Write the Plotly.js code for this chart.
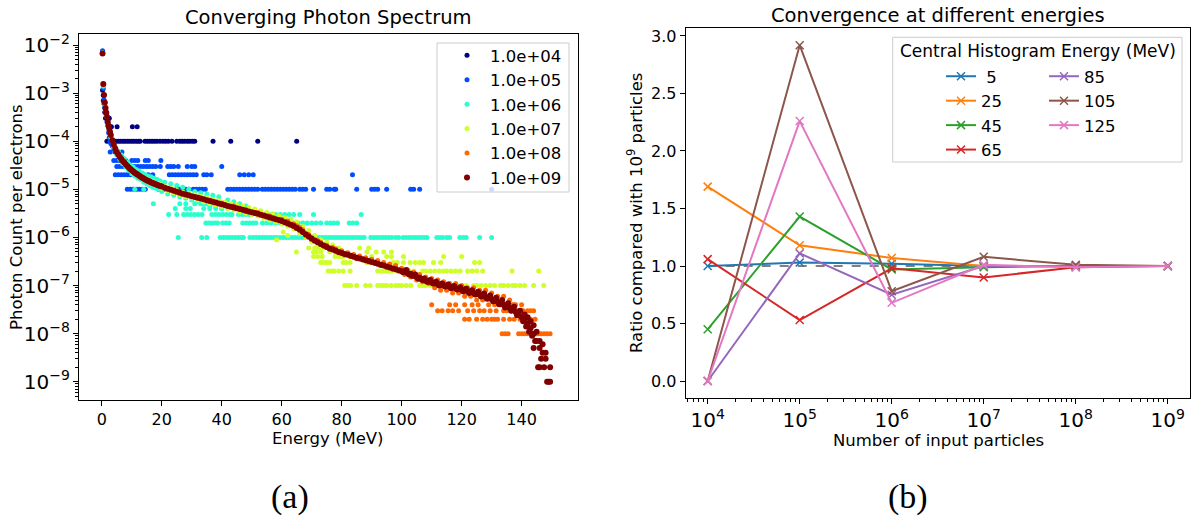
<!DOCTYPE html>
<html><head><meta charset="utf-8">
<script src="https://cdn.plot.ly/plotly-3.0.1.min.js"></script>
<style>html,body{margin:0;padding:0;background:#fff}#chart{width:1191px;height:519px}</style>
</head><body><div id="chart"></div>
<script>
// ================= LEFT PANEL: Converging Photon Spectrum =================
const SPEC_LABELS = ['1.0e+04','1.0e+05','1.0e+06','1.0e+07','1.0e+08','1.0e+09'];
const SPEC_COLORS = ['#000080','#004cff','#29ffce','#ceff29','#ff6800','#800000'];

// ---- 1e4 electrons ----
const S4_x = [0.25,0.25,0.5,0.5,0.75,1.0,1.0,1.25,1.5,1.75,2.0,2.5,2.25,3.2,5.1,10.2,11.8];
const S4_y = [7.3e-3,1.15e-3,9e-4,7e-4,6e-4,5e-4,4e-4,3e-4,4e-4,3e-4,3e-4,3e-4,2e-4,2e-4,2e-4,2e-4,2e-4];
const S4_row1e4 = [1.7,2.5,3.2,4.0,4.7,5.5,6.2,7.0,7.7,8.5,9.2,10.0,10.7,11.5,12.2,12.8,14.4,15.2,16.0,16.8,17.6,18.4,19.4,20.4,21.3,22.2,23.4,25.0,26.0,26.8,27.6,28.5,29.3,30.2,31.0,37.1,43.0,52.0,65.0];

// ---- 1e5 electrons ----
const S5_x = [0.25,0.5,0.75,1.0,1.25,1.5,1.75,2.0,2.25,2.5,2.75,3.0,3.5,4.0,2.8,4.4,5.5,6.7,6.4];
const S5_y = [7.6e-3,1.25e-3,7.3e-4,5.2e-4,4.2e-4,3.4e-4,2.5e-4,2.1e-4,1.5e-4,1.2e-4,1.0e-4,9e-5,8e-5,7e-5,6e-5,6e-5,6e-5,6e-5,5e-5];
const S5_row4e5 = [4,5,6,7,8,10,11,12,14.5,15.5,19.7];
const S5_row3e5 = [5,6,7,8,9,10,11,12,13,14,15,16,17,18,19.5,22,23,24,25.5,28.5,30,31,40];
const S5_row2e5 = [4.5,5.5,6.5,7.5,8.5,9.5,12,13,14,15.5,17,22.5,23.5,24.5,25.5,26.5,27.5,28.5,29.5,30.5,31.5,34,35,36.5,46,47.5,49,50.5,83.6];
const S5_row1e5 = [8.5,9.5,10.5,11.5,12.5,13.5,14.5,19,20,21,22,25,26,27,28,29,30.5,31.5,32.5,33.5,34.5,42,43,44,45,46,47,48,49,50,51,52,53.5,54.5,55.5,56.5,57.5,58.5,59.5,60.5,61.5,62.5,63.5,64.5,66,67,68,70.6,75,76,77.5,78,85,90,91,92,95,103,104,106,130];

// ---- 1e6 electrons ----
const S6_x = [0.25,0.5,1.0,1.5,2.0,2.5,
  3,3.5,4,4.5,5,5.5,6,6.5,7,7.5,8,8.5,9,9.5,10,10.5,11,11.5,12,12.5,13,13.5,14,14.5,15,15.5,16,16.5,17,17.5,18,18.5,19,19.5,20,
  21,22,23,24,25,26,27,28,29,30,31,32,33,34,35,36,37,38,39,40,42,44,46,48,17.2,14,11];
const S6_y = [6.8e-3,1.4e-3,5.5e-4,3.3e-4,2.2e-4,1.6e-4,
  1.2e-4,1.1e-4,7.5e-5,7.5e-5,5.2e-5,6.2e-5,4.2e-5,5.2e-5,3.4e-5,4.4e-5,2.9e-5,3.7e-5,2.5e-5,3.2e-5,2.1e-5,2.9e-5,1.9e-5,2.6e-5,1.7e-5,2.4e-5,1.6e-5,2.2e-5,1.4e-5,2.0e-5,1.3e-5,1.9e-5,1.2e-5,1.8e-5,1.1e-5,1.7e-5,1.05e-5,1.6e-5,1.0e-5,1.5e-5,9e-6,
  1.4e-5,8e-6,1.3e-5,7.5e-6,1.2e-5,7e-6,1.1e-5,6.5e-6,1.0e-5,6e-6,9e-6,5.5e-6,8.5e-6,5e-6,8e-6,4.5e-6,7.5e-6,4.5e-6,7e-6,4e-6,6e-6,5.5e-6,5e-6,4.5e-6,5e-6,1e-5,1e-5];
const S6_row5e6 = [26,28,31,33,35,37];
const S6_row4e6 = [24.5,28,29.5,34,36,38,40,42,44.5];
const S6_row3e6 = [22.3,25,27.3,28.5,29.7,30.9,32.1,33.4,36.7,37.9,39.1,40.3,41.5,42.7,43.4,45.6,46.8,48,49.2,50,55,56.5,58,59.5,61,62.5,64,66,70.6,86.5];
const S6_row2e6 = [34.7,35.7,36.7,37.7,38.6,40.3,41.4,42.5,47,48.2,49.3,50.4,51.4,53.6,55,56.5,58,59.5,61,62.5,64,65.5,67,68.5,70,71.5,73,75,76.2,77.4,78.6,82.5,83.7,85];
const S6_row1e6 = [25.5,33.3,35,39.5,40.5,41.5,42.5,43.5,44.5,45.5,46.5,47.2,49.4,50.5,51.5,52.5,53.5,54.5,55.5,56.5,57.5,58.3,59.4,60.5,61.5,62.5,63.5,64.5,65.5,66.5,67.5,68.5,69.5,70.5,71.5,72.5,73.5,74.5,75.5,76.5,77.5,78.5,79.5,80.5,81.5,82.5,83.5,84.5,85.5,86.5,87.5,89.7,90.7,91.7,92.7,93.7,94.7,95.7,96.7,98,99,100.5,101.5,102.5,103.5,104.5,105.5,106.5,107.5,108.4,111.7,112.7,113.7,115,116,119.4,120.5,121.5,126,130];

// ---- 1e7 electrons ----
const S7_x = [0.25,0.5,1,2,
  3,4,5,6,7,8,9,10,11,12,13,14,15,16,17,18,19,20,21,22,23,24,25,26,27,28,29,30,31,32,33,34,35,36,37,38,39,40,
  41,42,43,44,45,46,47,48,49,50,51,52,53,54,55,56,57,58,59,60,61,62,63,64,65,66,67,68,69,70,71,72,73,74,75,76,77,78,79,80,
  58.3,64.9,62,60.5];
const S7_y = [6.8e-3,1.5e-3,6.2e-4,2.4e-4,
  1.3e-4,8e-5,6.3e-5,4.5e-5,4.1e-5,3.1e-5,3.0e-5,2.4e-5,2.3e-5,1.9e-5,1.9e-5,1.6e-5,1.65e-5,1.35e-5,1.45e-5,1.2e-5,1.3e-5,1.05e-5,1.15e-5,9.5e-6,1.06e-5,8.5e-6,9.6e-6,7.8e-6,8.8e-6,7.1e-6,8.2e-6,6.6e-6,7.7e-6,6.0e-6,7.2e-6,5.5e-6,6.7e-6,5.1e-6,6.2e-6,4.7e-6,5.8e-6,4.4e-6,
  5.4e-6,4.0e-6,5.1e-6,3.7e-6,4.8e-6,3.4e-6,4.5e-6,3.2e-6,4.2e-6,3.0e-6,3.9e-6,2.8e-6,3.6e-6,2.5e-6,3.3e-6,2.3e-6,3.1e-6,2.1e-6,2.8e-6,1.9e-6,2.6e-6,1.7e-6,2.4e-6,1.5e-6,2.1e-6,1.2e-6,1.7e-6,1.0e-6,1.4e-6,8e-7,1.1e-6,7e-7,9e-7,6e-7,8e-7,5e-7,7e-7,5e-7,6e-7,4e-7,
  9e-7,5e-7,1.1e-6,1.3e-6];
const S7_row6e7 = [69,71,72.5,86,89];
const S7_row5e7 = [70.6,71.5,73,88.4,91.5,94,96.6];
const S7_row4e7 = [70.6,72,73.5,77.8,79,80.5,82.8,90,95,96.6,100.6,114,120];
const S7_row3e7 = [73,74,75,76,80.5,81.5,82.8,88.4,90,97.3,98.5,100.6,102.8,104.5,106,107.3,110.6,113,124.3,126];
const S7_row2e7 = [75.5,76.5,77.5,79,80.5,82.8,92,93,94,95,96,97,98.5,100,101,102.5,104,107,108,109.5,111,112.5,114,115,116.5,118,119.5,122,123.5,125,127,136.8,145.7];
const S7_row1e7 = [81,82,83,85,88,89.5,92,93,94,95,96.5,98,99,100,101.5,103,106,107,108,109.5,111,112,113,114.5,116,117,118.5,120,121.5,124,125,126.5,128,129.5,131,133,134,135.5,137,138,139.5,141,144,147.4];

// ---- 1e8 electrons ----
const S8_x = [0.25,0.5,1,2,4,8,12,16,20,24,28,32,36,40,44,48,52,56,60,62,
  63,64,65,66,67,68,69,70,71,72,73,74,75,76,77,78,79,80,81,82,83,84,85,86,87,88,89,90,91,92,93,94,95,96,97,98,99,100,
  101,102,103,104,105,106,107,108,109,110,111,112,113,114,115,116,117,118,119,120,121,122,123,124,125,126,127,128,129,130,
  131,132,133,134,135,136,137,138,139,140,141,142,143,144,145];
const S8_y = [6.8e-3,1.5e-3,6.3e-4,2.5e-4,8.8e-5,3.4e-5,2.1e-5,1.5e-5,1.17e-5,9.6e-6,8.0e-6,6.9e-6,6.0e-6,5.2e-6,4.5e-6,3.8e-6,3.3e-6,2.8e-6,2.4e-6,2.2e-6,
  1.85e-6,1.9e-6,1.75e-6,1.6e-6,1.45e-6,1.1e-6,1.15e-6,1.0e-6,8.3e-7,8.6e-7,7.9e-7,6.6e-7,6.9e-7,5.7e-7,6.2e-7,5.8e-7,4.8e-7,5.3e-7,4.3e-7,4.8e-7,4.0e-7,4.4e-7,3.6e-7,4.1e-7,3.4e-7,3.8e-7,3.1e-7,3.5e-7,2.9e-7,3.3e-7,2.6e-7,3.0e-7,2.4e-7,2.8e-7,2.2e-7,2.6e-7,2.0e-7,2.3e-7,
  1.7e-7,2.1e-7,1.5e-7,1.9e-7,1.3e-7,1.7e-7,1.2e-7,1.5e-7,1.1e-7,1.4e-7,9e-8,1.3e-7,8e-8,1.2e-7,8e-8,1.1e-7,7e-8,1.1e-7,7e-8,1.0e-7,6e-8,9e-8,6e-8,9e-8,5e-8,8e-8,5e-8,8e-8,4e-8,7e-8,
  4e-8,6e-8,4e-8,6e-8,3e-8,5e-8,4e-8,4e-8,3e-8,4e-8,2e-8,3e-8,2e-8,3e-8,1e-8];
const S8_row4e8 = [110,116,118,121,123.5,125.5,133,135.5,137.5];
const S8_row3e8 = [112,113.5,115.5,117,119,122,124,126,127.5,129.5,131.5,134,136.5,138.5,140.5,143];
const S8_row2e8 = [121,122.5,125,127,128.5,130,131,132,134,136,137.5,139.5,142.5,144.5];
const S8_row1e8 = [133.5,134.5,135.5,139,140,141,142,143,144.5,145.5,146.5,147.5,148.5,149.5];

// ---- 1e9 electrons ----
const S9_x = [0.25,0.5,0.75,1.0,1.25,1.5,1.75,2.0,2.25,2.5,2.75,3.0,3.5,4.0,4.5,5.0,
  5.5,6,6.5,7,7.5,8,8.5,9,9.5,10,10.5,11,11.5,12,12.5,13,13.5,14,14.5,15,15.5,16,16.5,17,17.5,18,18.5,19,19.5,20,
  21,22,23,24,25,26,27,28,29,30,31,32,33,34,35,36,37,38,39,40,
  41,42,43,44,45,46,47,48,49,50,51,52,53,54,55,56,57,58,59,60,
  61,62,63,64,65,66,67,68,69,70,71,72,73,74,75,76,77,78,79,80,
  81,82,83,84,85,86,87,88,89,90,91,92,93,94,95,96,97,98,99,100,
  100.5,101,101.5,102,102.5,103,103.5,104,104.5,105,
  105.5,106,106.5,107,107.5,108,108.5,109,109.5,110,
  110.5,111,111.5,112,112.5,113,113.5,114,114.5,115,
  115.5,116,116.5,117,117.5,118,118.5,119,119.5,120,
  120.5,121,121.5,122,122.5,123,123.5,124,124.5,125,
  125.5,126,126.5,127,127.5,128,128.5,129,129.5,130,
  130.5,131,131.5,132,132.5,133,133.5,134,134.5,135,
  135.5,136,136.5,137,137.5,138,138.5,139,139.5,140,
  140.5,141,141.5,142,142.5,143,143.5,144,144.5,145,
  145.5,146,146.5,147,147.5,148,148.5,149,149.5,
  141,142,143,144,145,146,147,148,149.5,144,146];
const S9_y = [6.7e-3,1.55e-3,9.2e-4,6.4e-4,4.9e-4,3.9e-4,3.2e-4,2.5e-4,2.1e-4,1.8e-4,1.55e-4,1.35e-4,1.05e-4,8.5e-5,7.0e-5,6.0e-5,
  5.3e-5,4.7e-5,4.3e-5,3.9e-5,3.6e-5,3.3e-5,3.05e-5,2.85e-5,2.65e-5,2.5e-5,2.35e-5,2.22e-5,2.1e-5,2.0e-5,1.91e-5,1.83e-5,1.75e-5,1.68e-5,1.61e-5,1.55e-5,1.49e-5,1.44e-5,1.39e-5,1.35e-5,1.31e-5,1.27e-5,1.23e-5,1.2e-5,1.17e-5,1.14e-5,
  1.08e-5,1.03e-5,9.8e-6,9.3e-6,8.9e-6,8.5e-6,8.1e-6,7.8e-6,7.5e-6,7.2e-6,6.95e-6,6.7e-6,6.45e-6,6.2e-6,5.95e-6,5.7e-6,5.5e-6,5.3e-6,5.1e-6,4.9e-6,
  4.7e-6,4.5e-6,4.35e-6,4.2e-6,4.05e-6,3.9e-6,3.75e-6,3.6e-6,3.47e-6,3.35e-6,3.22e-6,3.1e-6,2.97e-6,2.85e-6,2.73e-6,2.6e-6,2.5e-6,2.4e-6,2.3e-6,2.2e-6,
  2.08e-6,1.96e-6,1.84e-6,1.72e-6,1.58e-6,1.44e-6,1.3e-6,1.16e-6,1.04e-6,9.4e-7,8.6e-7,7.9e-7,7.3e-7,6.8e-7,6.3e-7,5.9e-7,5.6e-7,5.3e-7,5.0e-7,4.75e-7,
  4.55e-7,4.35e-7,4.15e-7,3.95e-7,3.8e-7,3.65e-7,3.5e-7,3.35e-7,3.22e-7,3.1e-7,2.97e-7,2.85e-7,2.72e-7,2.6e-7,2.48e-7,2.37e-7,2.27e-7,2.17e-7,2.07e-7,1.97e-7,
  1.9e-7,1.95e-7,2.1e-7,1.8e-7,1.7e-7,1.75e-7,1.6e-7,1.6e-7,1.7e-7,1.5e-7,
  1.4e-7,1.45e-7,1.35e-7,1.3e-7,1.4e-7,1.28e-7,1.2e-7,1.22e-7,1.3e-7,1.17e-7,
  1.1e-7,1.12e-7,1.2e-7,1.08e-7,1.0e-7,1.04e-7,1.1e-7,1.0e-7,9.5e-8,9.7e-8,
  1.05e-7,9.4e-8,8.8e-8,9.1e-8,9.8e-8,8.8e-8,8.3e-8,8.5e-8,9.2e-8,8.2e-8,
  7.6e-8,7.9e-8,8.6e-8,7.6e-8,7.0e-8,7.3e-8,8.0e-8,7.0e-8,6.5e-8,6.7e-8,
  7.4e-8,6.4e-8,5.9e-8,6.1e-8,6.8e-8,5.8e-8,5.3e-8,5.5e-8,6.2e-8,5.2e-8,
  4.7e-8,4.9e-8,5.6e-8,4.6e-8,4.1e-8,4.3e-8,5.0e-8,4.0e-8,3.5e-8,3.7e-8,
  4.3e-8,3.4e-8,3.0e-8,3.2e-8,3.6e-8,2.8e-8,2.4e-8,2.6e-8,3.0e-8,2.2e-8,
  1.8e-8,2.0e-8,1.4e-8,1.6e-8,1.1e-8,1.3e-8,9e-9,1.0e-8,7e-9,7e-9,
  2e-9,5e-9,3e-9,4e-9,2e-9,3e-9,1e-9,1e-9,2e-9,
  2.5e-8,2.2e-8,1.8e-8,1.5e-8,1.1e-8,7e-9,6e-9,4e-9,1e-9,5e-9,2e-9];

// ================= RIGHT PANEL: Convergence =================
const N_INPUT = [1e4,1e5,1e6,1e7,1e8,1e9];
const E_LABELS = ['\u00a05','25','45','65','85','105','125'];
const E_COLORS = ['#1f77b4','#ff7f0e','#2ca02c','#d62728','#9467bd','#8c564b','#e377c2'];
const R_5   = [1.00,1.03,1.02,1.00,1.00,1.00];
const R_25  = [1.69,1.18,1.07,1.00,1.00,1.00];
const R_45  = [0.45,1.43,0.97,0.99,1.00,1.00];
const R_65  = [1.06,0.53,0.98,0.90,0.99,1.00];
const R_85  = [0.00,1.11,0.75,1.00,1.00,1.00];
const R_105 = [0.00,2.92,0.78,1.08,1.01,1.00];
const R_125 = [0.00,2.26,0.68,1.01,0.99,1.00];
const REF_LINE = [1,1];
const REF_X = [1e4,1e9];

// ---------------- build ----------------
function cat(parts){ const x=[],y=[]; parts.forEach(p=>{ x.push(...p[0]); y.push(...p[1]); }); return [x,y]; }
function row(xs, level){ return [xs, xs.map(()=>level)]; }

const specParts = [
  [[S4_x,S4_y], row(S4_row1e4,1e-4)],
  [[S5_x,S5_y], row(S5_row4e5,4e-5), row(S5_row3e5,3e-5), row(S5_row2e5,2e-5), row(S5_row1e5,1e-5)],
  [[S6_x,S6_y], row(S6_row5e6,5e-6), row(S6_row4e6,4e-6), row(S6_row3e6,3e-6), row(S6_row2e6,2e-6), row(S6_row1e6,1e-6)],
  [[S7_x,S7_y], row(S7_row6e7,6e-7), row(S7_row5e7,5e-7), row(S7_row4e7,4e-7), row(S7_row3e7,3e-7), row(S7_row2e7,2e-7), row(S7_row1e7,1e-7)],
  [[S8_x,S8_y], row(S8_row4e8,4e-8), row(S8_row3e8,3e-8), row(S8_row2e8,2e-8), row(S8_row1e8,1e-8)],
  [[S9_x,S9_y]]
];

const traces = [];
specParts.forEach((parts,i)=>{
  const [x,y] = cat(parts);
  traces.push({type:'scatter', mode:'markers', x, y, name:SPEC_LABELS[i], xaxis:'x', yaxis:'y', legend:'legend',
    marker:{color:SPEC_COLORS[i], size: i===5?6:5, line:{width:0}}, hoverinfo:'skip'});
});

traces.push({type:'scatter', mode:'lines', x:REF_X, y:REF_LINE, xaxis:'x2', yaxis:'y2', showlegend:false,
  line:{color:'#808080', width:2, dash:'dash'}, hoverinfo:'skip'});
const RATIOS = [R_5,R_25,R_45,R_65,R_85,R_105,R_125];
RATIOS.forEach((r,i)=>{
  traces.push({type:'scatter', mode:'lines+markers', x:N_INPUT, y:r, name:E_LABELS[i], xaxis:'x2', yaxis:'y2',
    legend: i<4 ? 'legend2' : 'legend3',
    line:{color:E_COLORS[i], width:2},
    marker:{symbol:'x-thin', size:8, color:E_COLORS[i], line:{color:E_COLORS[i], width:1.5}}, hoverinfo:'skip'});
});

const W=1191, H=519;
const px = v => v/W, py = v => 1 - v/H;
const axisCommon = {showline:true, mirror:true, linecolor:'#000', linewidth:1, ticks:'outside', ticklen:5, tickwidth:1,
  tickcolor:'#000', showgrid:false, zeroline:false, tickfont:{size:16, color:'#000'}};

function ann(text, x, y, opts){ return Object.assign({text, x:px(x), y:py(y), xref:'paper', yref:'paper', showarrow:false,
  xanchor:'center', yanchor:'middle', font:{size:16.5, color:'#000', family:'DejaVu Sans'}}, opts||{}); }

const layout = {
  width:W, height:H, margin:{l:0,r:0,t:0,b:0}, paper_bgcolor:'#fff', plot_bgcolor:'#fff',
  font:{family:'DejaVu Sans', size:16, color:'#000'},
  showlegend:true,
  xaxis: Object.assign({}, axisCommon, {domain:[px(79), px(578)], range:[-7.6,158.8], tickvals:[0,20,40,60,80,100,120,140], anchor:'y'}),
  yaxis: Object.assign({}, axisCommon, {domain:[py(400), py(34)], type:'log', range:[-9.38,-1.77], dtick:1, exponentformat:'power',
    minor:{ticks:'outside', ticklen:3, tickcolor:'#000', showgrid:false}, anchor:'x'}),
  xaxis2: Object.assign({}, axisCommon, {domain:[px(685.7), px(1190)], type:'log', range:[3.761,9.242], dtick:1, exponentformat:'power',
    minor:{ticks:'outside', ticklen:3, tickcolor:'#000', showgrid:false}, anchor:'y2'}),
  yaxis2: Object.assign({}, axisCommon, {domain:[py(397.7), py(27.7)], range:[-0.145,3.072], tickvals:[0,0.5,1,1.5,2,2.5,3],
    ticktext:['0.0','0.5','1.0','1.5','2.0','2.5','3.0'], anchor:'x2'}),
  legend:{x:px(444), y:py(38), xanchor:'left', yanchor:'top', bgcolor:'rgba(0,0,0,0)', borderwidth:0,
    font:{size:16.5, color:'#000'}, itemwidth:36, traceorder:'normal'},
  legend2:{x:px(941), y:py(59), xanchor:'left', yanchor:'top', bgcolor:'rgba(0,0,0,0)', borderwidth:0, font:{size:16.5, color:'#000'}, itemwidth:30},
  legend3:{x:px(1044), y:py(59), xanchor:'left', yanchor:'top', bgcolor:'rgba(0,0,0,0)', borderwidth:0, font:{size:16.5, color:'#000'}, itemwidth:30},
  shapes:[
    {type:'rect', xref:'paper', yref:'paper', x0:px(437), x1:px(569), y0:py(192), y1:py(43),
      line:{color:'#cccccc', width:1}, fillcolor:'rgba(255,255,255,0.8)', layer:'above'},
    {type:'rect', xref:'paper', yref:'paper', x0:px(892.7), x1:px(1182), y0:py(162), y1:py(37.3),
      line:{color:'#cccccc', width:1}, fillcolor:'rgba(255,255,255,0.8)', layer:'above'}],
  annotations:[
    ann('Converging Photon Spectrum', 328.5, 18, {font:{size:19.5, color:'#000', family:'DejaVu Sans'}}),
    ann('Convergence at different energies', 938, 16, {font:{size:19.5, color:'#000', family:'DejaVu Sans'}}),
    ann('Energy (MeV)', 328.5, 438),
    ann('Photon Count per electrons', 16, 217, {textangle:-90}),
    ann('Number of input particles', 938, 440),
    ann('Ratio compared with 10<sup>9</sup> particles', 635, 213, {textangle:-90}),
    ann('Central Histogram Energy (MeV)', 1038, 51, {font:{size:17, color:'#000', family:'DejaVu Sans'}}),
    ann('(a)', 290, 497, {font:{size:34, color:'#000', family:'Liberation Serif'}}),
    ann('(b)', 908, 497, {font:{size:34, color:'#000', family:'Liberation Serif'}})
  ]
};

Plotly.newPlot('chart', traces, layout, {staticPlot:true, displayModeBar:false});
</script></body></html>
